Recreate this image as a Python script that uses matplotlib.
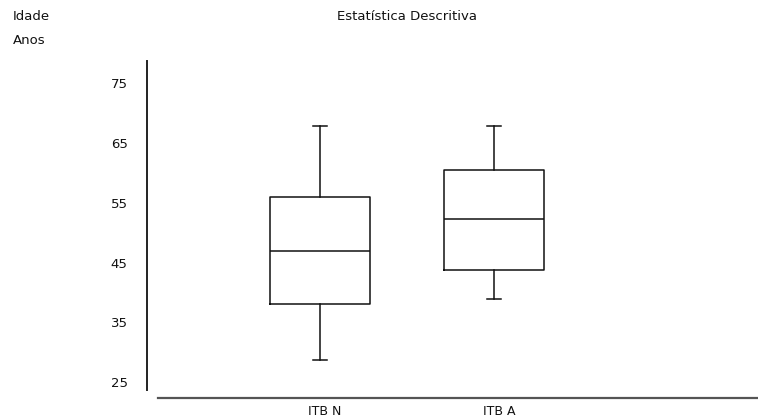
import matplotlib
matplotlib.use('Agg')
import matplotlib.pyplot as plt
from matplotlib.lines import Line2D
from matplotlib.transforms import ScaledTranslation

# valores
grupos = ['ITB N', 'ITB A']
minimo = [28.7, 38.9]
q1 = [38.0, 43.7]
mediana = [46.9, 52.3]
q3 = [55.9, 60.5]
maximo = [67.8, 67.8]
yticks = [25, 35, 45, 55, 65, 75]

plt.rcParams['font.family'] = ['DejaVu Sans']

W, H = 758, 419
fig = plt.figure(figsize=(W / 100, H / 100), dpi=100)


def fx(px):
    return px / W


def fy(py):
    return 1 - py / H


ax = fig.add_axes([fx(147), fy(390), fx(757) - fx(147), fy(61) - fy(390)])

stats = []
for i, nome in enumerate(grupos):
    stats.append({'label': nome, 'whislo': minimo[i], 'q1': q1[i],
                  'med': mediana[i], 'q3': q3[i], 'whishi': maximo[i],
                  'fliers': []})

estilo = dict(color='#111111', linewidth=1.1)
ax.bxp(stats, positions=[1, 2], widths=0.575, showfliers=False,
       boxprops=estilo, whiskerprops=estilo, capprops=estilo,
       medianprops=estilo, capwidths=0.08)

ax.set_xlim(0.006, 3.51)
ax.set_ylim(23.7, 78.7)
ax.set_yticks(yticks)
ax.tick_params(axis='y', length=0, pad=14, labelsize=9.5, colors='#111111')
ax.tick_params(axis='x', length=0, pad=10.5, labelsize=9, colors='#111111')

# rotulos do eixo x ligeiramente a direita, como no original
desloc = ScaledTranslation(5 / 100, 0, fig.dpi_scale_trans)
for lab in ax.get_xticklabels():
    lab.set_transform(lab.get_transform() + desloc)

for s in ['top', 'right', 'bottom']:
    ax.spines[s].set_visible(False)
ax.spines['left'].set_color('#222222')
ax.spines['left'].set_linewidth(1.4)

# eixo horizontal separado
fig.add_artist(Line2D([fx(158), fx(757)], [fy(398), fy(398)],
                      color='#555555', linewidth=1.6))

fig.text(fx(407), fy(17), 'Estatística Descritiva', ha='center', va='center',
         fontsize=9.5, color='#111111')
fig.text(fx(13), fy(17), 'Idade', ha='left', va='center', fontsize=9.5,
         color='#111111')
fig.text(fx(13), fy(40), 'Anos', ha='left', va='center', fontsize=9.5,
         color='#111111')

fig.savefig('out.png', dpi=100)
